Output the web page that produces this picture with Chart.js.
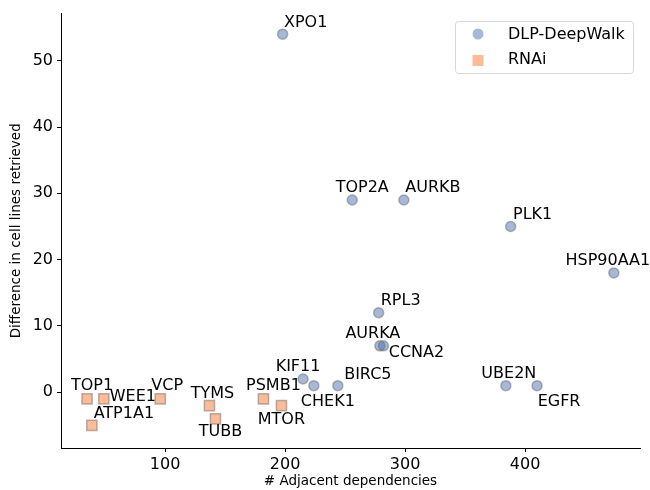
<!DOCTYPE html>
<html>
<head>
<meta charset="utf-8">
<script src="https://cdn.jsdelivr.net/npm/chart.js@4/dist/chart.umd.min.js"></script>
<style>
  html, body { margin: 0; padding: 0; background: #fff; }
  #wrap { width: 650px; height: 490px; }
</style>
</head>
<body>
<div id="wrap"><canvas id="myChart" width="650" height="490"></canvas></div>
<script>
// DLP-DeepWalk genes
const dlpGenes = ['XPO1', 'TOP2A', 'AURKB', 'PLK1', 'HSP90AA1', 'RPL3', 'AURKA', 'CCNA2', 'KIF11', 'CHEK1', 'BIRC5', 'UBE2N', 'EGFR'];
const dlpX = [198, 256, 299, 388, 474, 278, 279, 282, 215, 224, 244, 384, 410];
const dlpY = [54, 29, 29, 25, 18, 12, 7, 7, 2, 1, 1, 1, 1];

// RNAi genes
const rnaiGenes = ['TOP1', 'WEE1', 'ATP1A1', 'VCP', 'TYMS', 'TUBB', 'PSMB1', 'MTOR'];
const rnaiX = [35, 49, 39, 96, 137, 142, 182, 197];
const rnaiY = [-1, -1, -5, -1, -2, -4, -1, -2];

const xTicks = [100, 200, 300, 400];
const yTicks = [0, 10, 20, 30, 40, 50];

const FONT = "'DejaVu Sans', sans-serif";

const makeData = (xs, ys, names) => {
  let result = [];
  for (let i = 0; i < xs.length; i++) {
    result.push({ x: xs[i], y: ys[i], name: names[i] });
  }
  return result;
};

// where each gene name sits relative to its marker (text centre, px)
const labelOffsets = {
  XPO1: [23, -11], TOP2A: [10, -12], AURKB: [29, -12], PLK1: [22, -12],
  HSP90AA1: [-6, -12], RPL3: [22, -12], AURKA: [-7, -12], CCNA2: [33, 7],
  KIF11: [-5, -12], CHEK1: [14, 16], BIRC5: [30, -11], UBE2N: [3, -12],
  EGFR: [22, 16],
  TOP1: [5, -13], WEE1: [29, -2], ATP1A1: [32, -12], VCP: [7, -13],
  TYMS: [3, -12], TUBB: [5, 13], PSMB1: [10, -13], MTOR: [0, 14],
};

const labelPlugin = {
  id: 'gene_labels',
  afterDatasetsDraw: (chart) => {
    const ctx = chart.ctx;
    ctx.save();
    ctx.font = '16px ' + FONT;
    ctx.fillStyle = '#000';
    ctx.textAlign = 'center';
    ctx.textBaseline = 'middle';
    chart.data.datasets.forEach((ds, di) => {
      const meta = chart.getDatasetMeta(di);
      meta.data.forEach((pt, i) => {
        const name = ds.data[i].name;
        const off = labelOffsets[name] || [0, -12];
        ctx.fillText(name, pt.x + off[0], pt.y + off[1]);
      });
    });
    ctx.restore();
  },
  afterDraw: (chart) => {
    // legend box in the upper right, like matplotlib's
    const ctx = chart.ctx;
    ctx.save();
    const bx = 455, by = 21, bw = 178, bh = 52;
    ctx.beginPath();
    ctx.roundRect(bx + 0.5, by + 0.5, bw, bh, 3);
    ctx.fillStyle = 'rgba(255,255,255,0.8)';
    ctx.fill();
    ctx.strokeStyle = '#d6d6d6';
    ctx.lineWidth = 1;
    ctx.stroke();
    ctx.fillStyle = 'rgba(76,114,176,0.5)';
    ctx.beginPath();
    ctx.arc(478, 34, 5.5, 0, Math.PI * 2);
    ctx.fill();
    ctx.fillStyle = 'rgba(251,120,50,0.5)';
    ctx.fillRect(472.5, 55, 11, 11);
    ctx.font = '16px ' + FONT;
    ctx.fillStyle = '#000';
    ctx.textAlign = 'left';
    ctx.textBaseline = 'middle';
    ctx.fillText('DLP-DeepWalk', 508, 35);
    ctx.fillText('RNAi', 508, 60);
    ctx.restore();
  },
};

const data = {
  datasets: [
    {
      label: 'DLP-DeepWalk',
      data: makeData(dlpX, dlpY, dlpGenes),
      pointStyle: 'circle',
      pointRadius: 5,
      pointHoverRadius: 5,
      backgroundColor: 'rgba(76, 114, 176, 0.5)',
      borderColor: 'rgba(110, 110, 110, 0.5)',
      borderWidth: 1.5,
    },
    {
      label: 'RNAi',
      data: makeData(rnaiX, rnaiY, rnaiGenes),
      pointStyle: 'rect',
      pointRadius: 7.2,
      pointHoverRadius: 7.2,
      backgroundColor: 'rgba(251, 120, 50, 0.5)',
      borderColor: 'rgba(110, 110, 110, 0.5)',
      borderWidth: 1.5,
    },
  ],
};

const config = {
  type: 'scatter',
  data: data,
  plugins: [labelPlugin],
  options: {
    responsive: false,
    animation: false,
    events: [],
    layout: { padding: { left: 0, right: 10, top: 13, bottom: 0 } },
    plugins: {
      legend: { display: false },
      tooltip: { enabled: false },
    },
    scales: {
      x: {
        type: 'linear',
        position: 'bottom',
        min: 13.3,
        max: 495.8,
        afterBuildTicks: (axis) => { axis.ticks = xTicks.map((v) => ({ value: v })); },
        afterFit: (axis) => { axis.height = 42; },
        title: {
          display: true,
          text: '# Adjacent dependencies',
          color: '#000',
          font: { family: FONT, size: 13.5 },
          padding: { top: 3, bottom: 0 },
        },
        grid: { display: true, drawOnChartArea: false, drawTicks: true, tickLength: 4, color: '#000' },
        border: { display: true, color: '#000', width: 1 },
        ticks: { color: '#000', font: { family: FONT, size: 16 }, padding: 3, maxRotation: 0 },
      },
      y: {
        type: 'linear',
        min: -8.4,
        max: 57.1,
        afterBuildTicks: (axis) => { axis.ticks = yTicks.map((v) => ({ value: v })); },
        afterFit: (axis) => { axis.width = 61; },
        title: {
          display: true,
          text: 'Difference in cell lines retrieved',
          color: '#000',
          font: { family: FONT, size: 13.5 },
          padding: { top: 8, bottom: 4 },
        },
        grid: { display: true, drawOnChartArea: false, drawTicks: true, tickLength: 4, color: '#000' },
        border: { display: true, color: '#000', width: 1 },
        ticks: { color: '#000', font: { family: FONT, size: 16 }, padding: 4 },
      },
    },
  },
};

const myChart = new Chart(document.getElementById('myChart'), config);
</script>
</body>
</html>
